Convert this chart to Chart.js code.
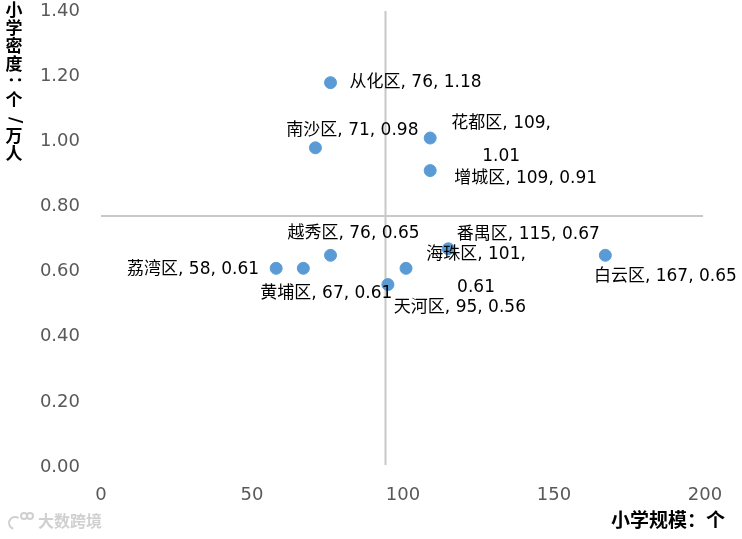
<!DOCTYPE html>
<html>
<head>
<meta charset="utf-8">
<script src="https://cdn.jsdelivr.net/npm/chart.js@4"></script>
<style>
  html, body { margin: 0; padding: 0; background: #fff; }
  #wrap { position: relative; width: 742px; height: 539px; }
</style>
</head>
<body>
<div id="wrap"><canvas id="grafico" width="742" height="539"></canvas></div>
<script>
// dados
var distritos = ["从化区", "南沙区", "花都区", "增城区", "越秀区", "番禺区", "海珠区", "白云区", "荔湾区", "黄埔区", "天河区"];
var escala = [76, 71, 109, 109, 76, 115, 101, 167, 58, 67, 95];
var densidade = [1.18, 0.98, 1.01, 0.91, 0.65, 0.67, 0.61, 0.65, 0.61, 0.61, 0.56];
var mediaX = 94;
var mediaY = 0.77;
var tituloX = "小学规模：个";
var tituloY = "小学密度：个/万人";

// onde fica cada rótulo em relação ao ponto
var posRotulo = ["right", "above", "rightWrap", "right", "above", "aboveRight", "rightWrap2", "below", "left", "below", "belowRight"];

var fonteBase = "'DejaVu Sans', 'Noto Sans CJK SC', sans-serif";

var rotulosPlugin = {
    id: "rotulos",
    afterDatasetsDraw: function (chart) {
        var c = chart.ctx;
        var meta = chart.getDatasetMeta(0);
        c.save();
        c.font = "17px " + fonteBase;
        c.fillStyle = "#000";
        c.textBaseline = "middle";
        meta.data.forEach(function (pt, i) {
            var x = pt.x, y = pt.y;
            var txt = distritos[i] + ", " + escala[i] + ", " + densidade[i].toFixed(2);
            var p = posRotulo[i];
            if (p === "right") {
                c.textAlign = "left";
                c.fillText(txt, x + (i === 3 ? 24 : 19), y + (i === 3 ? 8 : 0));
            } else if (p === "left") {
                c.textAlign = "right";
                c.fillText(txt, x - 17, y + 1);
            } else if (p === "above") {
                c.textAlign = "center";
                c.fillText(txt, x + (i === 4 ? 23 : 37), y - (i === 4 ? 22 : 17));
            } else if (p === "below") {
                c.textAlign = "center";
                c.fillText(txt, x + (i === 7 ? 60 : 23), y + (i === 7 ? 21 : 25));
            } else if (p === "belowRight") {
                c.textAlign = "center";
                c.fillText(txt, x + 72, y + 23);
            } else if (p === "aboveRight") {
                c.textAlign = "center";
                c.fillText(txt, x + 80, y - 14);
            } else if (p === "rightWrap" || p === "rightWrap2") {
                var l1 = distritos[i] + ", " + escala[i] + ",";
                var l2 = densidade[i].toFixed(2);
                c.textAlign = "center";
                var cx = p === "rightWrap" ? x + 71 : x + 70;
                var dy = -14;
                c.fillText(l1, cx, y + dy);
                c.fillText(l2, cx, y + dy + 33);
            }
        });
        c.restore();
    }
};

var extrasPlugin = {
    id: "extras",
    beforeDatasetsDraw: function (chart) {
        var c = chart.ctx;
        var a = chart.chartArea;
        var sx = chart.scales.x, sy = chart.scales.y;
        var px = Math.round(sx.getPixelForValue(mediaX)) + 0.5;
        var py = Math.round(sy.getPixelForValue(mediaY));
        c.save();
        c.strokeStyle = "#c8c8c8";
        c.lineWidth = 2;
        c.beginPath();
        c.moveTo(px, a.top);
        c.lineTo(px, a.bottom - 2);
        c.moveTo(a.left, py);
        c.lineTo(a.right - 2, py);
        c.stroke();
        c.restore();
    },
    afterDraw: function (chart) {
        var c = chart.ctx;
        c.save();
        c.fillStyle = "#000";
        // título do eixo y, vertical e empilhado
        c.font = "bold 17px " + fonteBase;
        c.textAlign = "center";
        c.textBaseline = "middle";
        var chars = Array.from(tituloY);
        var y0 = 12;
        chars.forEach(function (ch, k) {
            var yy = y0 + k * 18;
            if (ch === "/" || ch === "：") {
                c.save();
                c.translate(14, yy);
                c.rotate(Math.PI / 2);
                c.fillText(ch, 0, 0);
                c.restore();
            } else {
                c.fillText(ch, 14, yy);
            }
        });
        // título do eixo x
        c.font = "bold 19px " + fonteBase;
        c.textAlign = "right";
        c.fillText(tituloX, 725, 522);
        // marca d'água
        c.fillStyle = "#d0d0d0";
        c.font = "bold 16px " + fonteBase;
        c.textAlign = "left";
        c.fillText("大数跨境", 38, 523);
        c.strokeStyle = "#d0d0d0";
        c.lineWidth = 2;
        c.beginPath();
        c.arc(15, 523, 6, 0.6 * Math.PI, 1.7 * Math.PI);
        c.stroke();
        c.beginPath();
        c.arc(24, 516, 3, 0, 2 * Math.PI);
        c.moveTo(33, 516);
        c.arc(30, 516, 3, 0, 2 * Math.PI);
        c.stroke();
        c.restore();
    }
};

var ctx = document.getElementById("grafico").getContext("2d");
var pontos = escala.map(function (v, i) { return { x: v, y: densidade[i] }; });

function semPadding(s) {
    s.paddingTop = 0;
    s.paddingBottom = 0;
    s.paddingLeft = 0;
    s.paddingRight = 0;
}

var grafico = new Chart(ctx, {
    type: "scatter",
    data: {
        datasets: [{
            label: "小学",
            data: pontos,
            backgroundColor: "#5b9bd5",
            borderColor: "#5b9bd5",
            pointRadius: 6,
            pointHoverRadius: 6
        }]
    },
    options: {
        responsive: false,
        animation: false,
        layout: { padding: { left: 0, right: 37, top: 11, bottom: 0 } },
        plugins: {
            legend: { display: false },
            tooltip: { enabled: false }
        },
        scales: {
            x: {
                type: "linear",
                min: 0,
                max: 200,
                grid: { display: false, drawTicks: false },
                border: { display: false },
                ticks: {
                    stepSize: 50,
                    color: "#595959",
                    padding: 18,
                    font: { size: 18, family: fonteBase }
                },
                afterFit: function (s) { s.height = 72; semPadding(s); }
            },
            y: {
                min: 0,
                max: 1.4,
                grid: { display: false, drawTicks: false },
                border: { display: false },
                ticks: {
                    stepSize: 0.2,
                    color: "#595959",
                    padding: 21,
                    font: { size: 18, family: fonteBase },
                    callback: function (v) { return v.toFixed(2); }
                },
                afterFit: function (s) { s.width = 101; semPadding(s); }
            }
        }
    },
    plugins: [extrasPlugin, rotulosPlugin]
});
</script>
</body>
</html>
